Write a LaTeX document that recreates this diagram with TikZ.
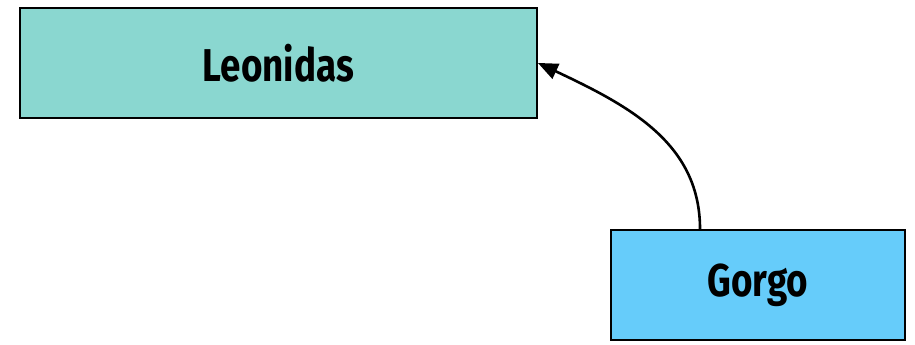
\documentclass[tikz,border=0pt]{standalone}
\usepackage{fontspec}
\newfontfamily\boxfont{Fira Sans}[FakeStretch=0.8]
\usetikzlibrary{arrows,shapes,positioning}
\definecolor{leocolor}{RGB}{138,215,208}
\definecolor{gorgocolor}{RGB}{102,204,250}
\tikzset{person/.style={draw, line width=1pt, rectangle, minimum height=55pt,
  font=\boxfont\bfseries\fontsize{23}{27}\selectfont, inner sep=0pt}}

\begin{document}
\begin{tikzpicture}
    \useasboundingbox (0,0) rectangle (457.5pt,-172pt);
    \node[person, fill=leocolor, minimum width=258.5pt] (leonidas) at (139.25pt,-31.5pt) {Leonidas};
    \node[person, fill=gorgocolor, minimum width=147pt] (gorgo) [below right = 55pt and 36pt of leonidas] {Gorgo};

    \draw[line width=1.3pt, -triangle 45] ([xshift=-29pt]gorgo.north) to[out=90, in=-25] (leonidas.east);
\end{tikzpicture}
\end{document}
